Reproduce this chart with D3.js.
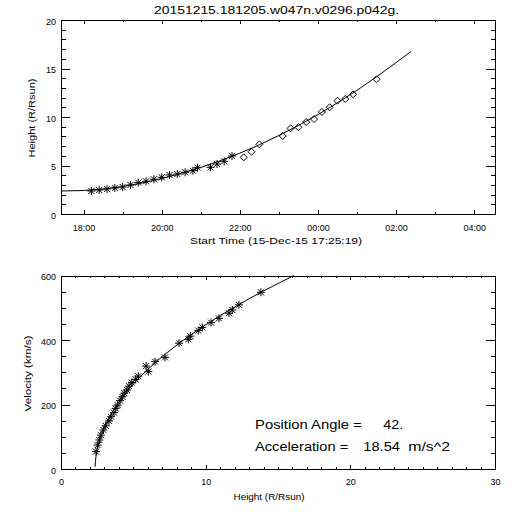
<!DOCTYPE html>
<html><head><meta charset="utf-8">
<script src="https://cdn.jsdelivr.net/npm/d3@7/dist/d3.min.js"></script>
<style>
body{margin:0;background:#fff}
svg{display:block;background:#fff}
text{font-family:"Liberation Sans",Arial,sans-serif;fill:#000}
</style>
</head><body>
<svg id="c" width="512" height="512"></svg>
<script>
// ---------- data ----------
const titleText = "20151215.181205.w047n.v0296.p042g.";
const startTime = "17:25:19";           // 15-Dec-15
const xTitleTop = "Start Time (15-Dec-15 17:25:19)";
const yTitleTop = "Height (R/Rsun)";
const xTitleBottom = "Height (R/Rsun)";
const yTitleBottom = "Velocity (km/s)";

// C2 (asterisks) height-time points
const c2Times   = ["18:12","18:24","18:36","18:48","19:00","19:12","19:24","19:36","19:48","20:00",
                   "20:12","20:24","20:36","20:48","20:55","21:15","21:25","21:36","21:48"];
const c2Heights = [2.37,2.47,2.58,2.68,2.78,2.99,3.23,3.37,3.58,3.78,
                   4.02,4.12,4.30,4.46,4.77,4.81,5.15,5.43,5.98];
// C3 (diamonds) height-time points
const c3Times   = ["22:06","22:18","22:30","23:06","23:18","23:30","23:42","23:54","00:06","00:18",
                   "00:30","00:42","00:54","01:30"];
const c3Heights = [5.84,6.42,7.18,8.04,8.83,8.94,9.48,9.79,10.52,11.00,
                   11.68,11.86,12.34,13.89];
// fitted height-time curve
const fitTimes   = ["17:25:19","18:00","18:30","19:00","19:30","20:00","20:30","21:00","21:30","22:00",
                    "22:30","23:00","23:30","00:00","00:30","01:00","01:30","02:00","02:23"];
const fitHeights = [2.37,2.42,2.57,2.83,3.20,3.65,4.19,4.80,5.49,6.27,
                    7.13,8.09,9.12,10.25,11.46,12.75,14.14,15.61,16.75];

// velocity vs height points
const velObsHeights = [2.42,2.53,2.65,2.76,2.93,3.09,3.32,3.46,3.66,3.78,3.92,4.08,4.24,4.38,4.56,4.70,4.89,
                       5.16,5.34,5.88,6.04,6.50,7.19,8.16,8.80,8.94,9.49,9.77,10.37,10.92,11.61,11.84,12.30,13.82];
const velObsValues  = [54,74,90,105,121,134,149,162,175,188,198,212,224,235,245,257,268,
                       278,288,319,302,333,346,390,402,412,429,439,454,467,483,493,509,548];
// fitted velocity curve
const velFitHeights = [2.36,2.38,2.42,2.5,2.6,2.8,3.0,3.3,3.6,4.0,4.5,5.0,5.5,6.0,6.5,7.0,
                       8.0,9.0,10.0,11.0,12.0,13.0,14.0,15.0,16.1];
const velFitValues  = [7,23,40,60,79,107,129,157,180,207,237,263,287,309,329,349,
                       384,417,447,476,502,528,552,575,600];

// tick labels
const timeMajorTicks = ["18:00","20:00","22:00","00:00","02:00","04:00"];
const timeMinorTicks = ["19:00","21:00","23:00","01:00","03:00"];
const heightTicks = [0,5,10,15,20];
const velTicks = [0,200,400,600];
const velHeightTicks = [0,10,20,30];

const annPA = ["Position Angle =", "42."];
const annAcc = ["Acceleration =", "18.54", "m/s^2"];

// ---------- helpers ----------
function secs(str){ const p = str.split(":").map(Number); return p[0]*3600 + p[1]*60 + (p[2]||0); }
const t0 = secs(startTime);
function rel(str){ let d = secs(str) - t0; if (d < 0) d += 86400; return d; }

const svg = d3.select("#c");
const FONT = '"Liberation Sans",Arial,sans-serif';

// ---------- scales ----------
const x1 = d3.scaleLinear().domain([0, 40000]).range([61, 495]);
const y1 = d3.scaleLinear().domain([0, 20]).range([214, 20]);
const x2 = d3.scaleLinear().domain([0, 30]).range([61, 495]);
const y2 = d3.scaleLinear().domain([0, 600]).range([469, 275.5]);

function axes(x, y, xMaj, xMin, xFmt, yMaj, yMin, xLab, yLab){
  const [xl, xr] = x.range(), [yb, yt] = y.range();
  const xt = 4, yt2 = 9;
  // bottom
  const gb = svg.append("g").attr("transform", `translate(0,${yb})`)
    .call(d3.axisBottom(x).tickValues(xMaj).tickSizeInner(-xt).tickSizeOuter(0).tickPadding(0).tickFormat(xFmt));
  gb.selectAll("text").attr("y", xLab).attr("dy", null);
  svg.append("g").attr("transform", `translate(0,${yb})`)
    .call(d3.axisBottom(x).tickValues(xMin).tickSizeInner(-xt/2).tickSizeOuter(0).tickFormat(""))
    .select(".domain").remove();
  // top
  svg.append("g").attr("transform", `translate(0,${yt})`)
    .call(d3.axisTop(x).tickValues(xMaj).tickSizeInner(-xt).tickSizeOuter(0).tickFormat(""));
  svg.append("g").attr("transform", `translate(0,${yt})`)
    .call(d3.axisTop(x).tickValues(xMin).tickSizeInner(-xt/2).tickSizeOuter(0).tickFormat(""))
    .select(".domain").remove();
  // left
  const gl = svg.append("g").attr("transform", `translate(${xl},0)`)
    .call(d3.axisLeft(y).tickValues(yMaj).tickSizeInner(-yt2).tickSizeOuter(0).tickPadding(5));
  gl.selectAll("text").attr("dy", null).attr("y", yLab);
  svg.append("g").attr("transform", `translate(${xl},0)`)
    .call(d3.axisLeft(y).tickValues(yMin).tickSizeInner(-yt2/2).tickSizeOuter(0).tickFormat(""))
    .select(".domain").remove();
  // right
  svg.append("g").attr("transform", `translate(${xr},0)`)
    .call(d3.axisRight(y).tickValues(yMaj).tickSizeInner(-yt2).tickSizeOuter(0).tickFormat(""));
  svg.append("g").attr("transform", `translate(${xr},0)`)
    .call(d3.axisRight(y).tickValues(yMin).tickSizeInner(-yt2/2).tickSizeOuter(0).tickFormat(""))
    .select(".domain").remove();
}

// top plot axes
axes(x1, y1,
  timeMajorTicks.map(rel), timeMinorTicks.map(rel),
  (d, i) => timeMajorTicks[i],
  heightTicks, d3.range(1, 20).filter(v => v % 5 !== 0), 17.2, 4);
// bottom plot axes
axes(x2, y2,
  velHeightTicks, d3.range(1, 30).filter(v => v % 10 !== 0), d3.format("d"),
  velTicks, d3.range(50, 600, 50).filter(v => v % 200 !== 0), 16.2, 4);

svg.selectAll("g").attr("font-size", 9).attr("font-family", FONT).attr("color", "#000");
svg.selectAll("g path, g line").attr("shape-rendering", "crispEdges");

// ---------- marks ----------
const starPath = "M-4,0H4M0,-4V4M-3,-3L3,3M-3,3L3,-3";
const diamondPath = "M0,-3.5L3.5,0L0,3.5L-3.5,0Z";

const lineTop = d3.line().x(d => x1(d[0])).y(d => y1(d[1]));
svg.append("path")
  .datum(fitTimes.map((t, i) => [rel(t), fitHeights[i]]))
  .attr("d", lineTop).attr("fill", "none").attr("stroke", "#000").attr("stroke-width", 1);

svg.append("g").selectAll("path")
  .data(c2Times.map((t, i) => [rel(t), c2Heights[i]]))
  .join("path")
  .attr("transform", d => `translate(${x1(d[0])},${y1(d[1])})`)
  .attr("d", starPath).attr("fill", "none").attr("stroke", "#000");

svg.append("g").selectAll("path")
  .data(c3Times.map((t, i) => [rel(t), c3Heights[i]]))
  .join("path")
  .attr("transform", d => `translate(${x1(d[0])},${y1(d[1])})`)
  .attr("d", diamondPath).attr("fill", "none").attr("stroke", "#000");

const lineBot = d3.line().x(d => x2(d[0])).y(d => y2(d[1]));
svg.append("path")
  .datum(velFitHeights.map((h, i) => [h, velFitValues[i]]))
  .attr("d", lineBot).attr("fill", "none").attr("stroke", "#000").attr("stroke-width", 1);

svg.append("g").selectAll("path")
  .data(velObsHeights.map((h, i) => [h, velObsValues[i]]))
  .join("path")
  .attr("transform", d => `translate(${x2(d[0])},${y2(d[1])})`)
  .attr("d", starPath).attr("fill", "none").attr("stroke", "#000");

// ---------- text ----------
function txt(s, x, y, size, len, anchor, transform){
  const t = svg.append("text").text(s).attr("font-size", size).attr("font-family", FONT)
    .attr("text-anchor", anchor || "start").style("white-space", "pre");
  if (transform) t.attr("transform", transform); else t.attr("x", x).attr("y", y);
  if (len) t.attr("textLength", len).attr("lengthAdjust", "spacingAndGlyphs");
  return t;
}
txt(titleText, 276.5, 14, 11, 245, "middle");
txt(xTitleTop, 276, 243.5, 9, 172, "middle");
txt(yTitleTop, 0, 0, 9, 79, "middle", "translate(35,118) rotate(-90)");
txt(xTitleBottom, 269, 500, 9, 71, "middle");
txt(yTitleBottom, 0, 0, 9, 76, "middle", "translate(31,373.5) rotate(-90)");

txt(annPA[0], 255, 429, 12.5, 106.7);
txt(annPA[1], 383.3, 429, 12.5, 20);
txt(annAcc[0], 255, 451, 12.5, 93.3);
txt(annAcc[1], 363.3, 451, 12.5, 36.7);
txt(annAcc[2], 408.3, 451, 12.5, 41.7);
</script>
</body></html>
